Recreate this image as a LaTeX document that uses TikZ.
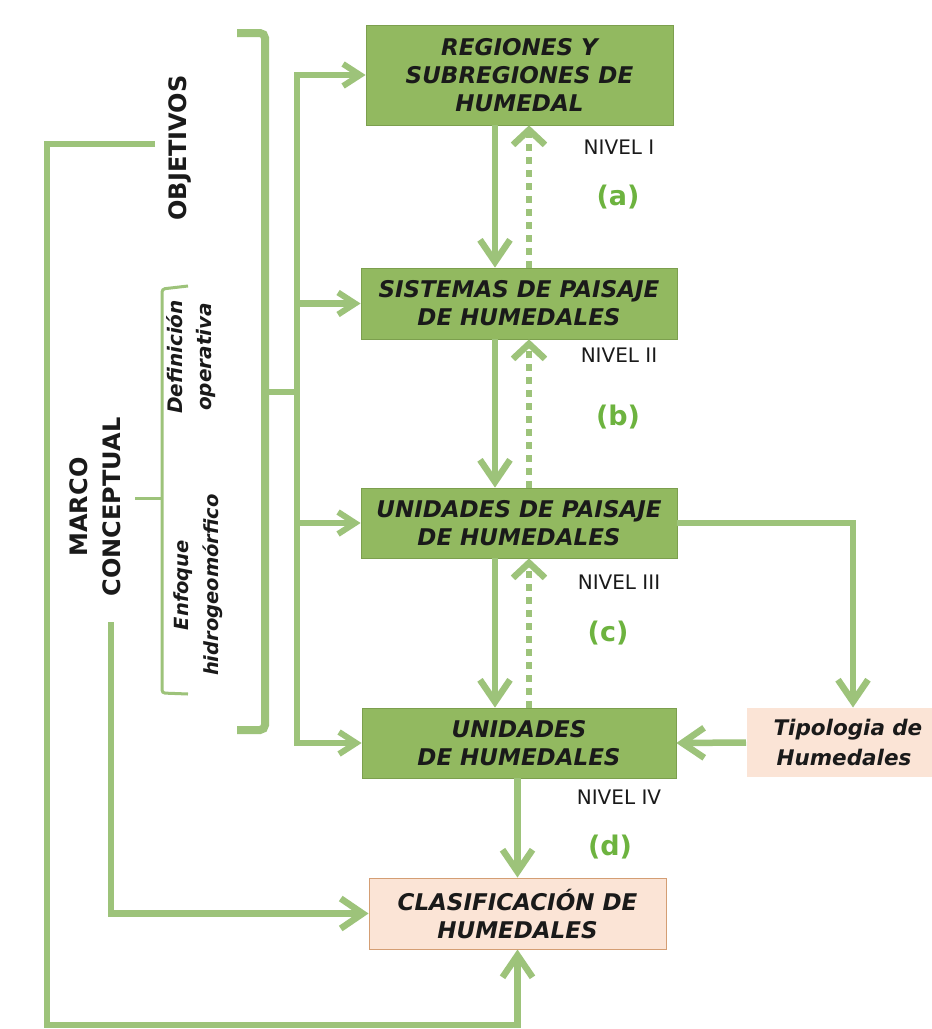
\documentclass[tikz,border=0pt]{standalone}
\usepackage{fontspec}
\setmainfont{DejaVu Sans}
\usetikzlibrary{arrows.meta}
\definecolor{lineG}{HTML}{9DC37A}
\definecolor{boxG}{HTML}{92B960}
\definecolor{boxGB}{HTML}{7C9F4E}
\definecolor{peach}{HTML}{FBE4D6}
\definecolor{peachB}{HTML}{D49E74}
\definecolor{labG}{HTML}{6DB33F}
\definecolor{txtD}{HTML}{1A1A1A}
\begin{document}
\begin{tikzpicture}[x=1pt,y=-1pt,
  plain/.style={draw=lineG, line width=6.5pt},
  bigarr/.style={draw=lineG, line width=6.5pt, -{Straight Barb[length=22pt,width=30pt,line width=6.5pt]}},
  darr/.style={draw=lineG, line width=6.5pt, -{Straight Barb[length=17pt,width=22pt,line width=6pt]}},
  dotarr/.style={draw=lineG, line width=6.5pt, dash pattern=on 7pt off 6pt, -{Straight Barb[length=15pt,width=32pt,line width=6.5pt]}},
  thinl/.style={draw=lineG, line width=3pt, rounded corners=3pt},
  brk/.style={draw=lineG, line width=8pt, rounded corners=5pt},
  gbox/.style={rectangle, fill=boxG, draw=boxGB, line width=0.8pt, inner sep=0pt, align=center, text=txtD,
    font=\fontsize{23}{28}\selectfont\bfseries\itshape},
  pbox/.style={rectangle, fill=peach, draw=peachB, line width=1pt, inner sep=0pt, align=center, text=txtD,
    font=\fontsize{23}{28}\selectfont\bfseries\itshape},
  nivel/.style={font=\fontsize{20}{22}\selectfont, text=txtD, inner sep=0pt},
  letra/.style={font=\fontsize{27}{30}\selectfont\bfseries, text=labG, inner sep=0pt},
  rottxt/.style={rotate=90, align=center, inner sep=0pt, text=txtD}
]
\useasboundingbox (0,0) rectangle (932,1029);
\clip (0,0) rectangle (932,1029);
\fill[white] (0,0) rectangle (932,1029);

% boxes
\node[gbox, minimum width=307pt, minimum height=100pt] (b1) at (519.5,75) {REGIONES Y\\SUBREGIONES DE\\HUMEDAL};
\node[gbox, minimum width=316pt, minimum height=71pt] (b2) at (519,303.5) {SISTEMAS DE PAISAJE\\DE HUMEDALES};
\node[gbox, minimum width=316pt, minimum height=70pt] (b3) at (519,523) {UNIDADES DE PAISAJE\\DE HUMEDALES};
\node[gbox, minimum width=314pt, minimum height=70pt] (b4) at (519,743) {UNIDADES\\DE HUMEDALES};
\node[pbox, minimum width=297pt, minimum height=71pt] (b5) at (517.5,913.5) {CLASIFICACIÓN DE\\HUMEDALES};
\node[pbox, draw=none, anchor=west, align=left, text width=180pt, inner xsep=27pt, minimum height=69pt,
  font=\fontsize{21.5}{30}\selectfont\bfseries\itshape] (tipo) at (746,742.5) {Tipologia de\\\hspace*{3pt}Humedales};

% rotated texts
\node[rottxt, font=\fontsize{24}{28}\selectfont\bfseries] (obj) at (180,148) {OBJETIVOS};
\node[rottxt, font=\fontsize{24}{33}\selectfont\bfseries] (marco) at (95,507) {MARCO\\CONCEPTUAL};
\node[rottxt, font=\fontsize{20}{29}\selectfont\bfseries\itshape] (defop) at (191.5,357) {Definición\\operativa};
\node[rottxt, font=\fontsize{19.5}{30}\selectfont\bfseries\itshape] (enf) at (198,585) {Enfoque\\hidrogeomórfico};

% level labels
\node[nivel] (n1) at (619,147) {NIVEL I};
\node[nivel] (n2) at (619,355) {NIVEL II};
\node[nivel] (n3) at (619,582) {NIVEL III};
\node[nivel] (n4) at (619,797) {NIVEL IV};
\node[letra] (la) at (618,197) {(a)};
\node[letra] (lb) at (618,417) {(b)};
\node[letra] (lc) at (608,633) {(c)};
\node[letra] (ld) at (610,847) {(d)};

% coordinates
\coordinate (s1) at (495,0);
\coordinate (s2) at (529,0);
\coordinate (tx) at (853,0);
\coordinate (dtop) at (297,75);
\coordinate (dmid) at (297,392);
\coordinate (dbot) at (297,743);
\coordinate (bk) at (265,392);
\coordinate (mtop) at (155,144);
\coordinate (ml) at (47,144);
\coordinate (bl) at (47,1025);
\coordinate (m2) at (111,622);
\coordinate (bm) at (135,498);

% big bracket (objetivos / marco)
\draw[brk] (237,33) -- (265,33) -- (265,730) -- (237,730);
\draw[plain] (bk) -- (dmid);

% thin brace
\draw[thinl] (188,286) -- (162,289) -- (162,693) -- (188,694);
\draw[draw=lineG, line width=3pt] (bm) -- (162,498);

% distribution line and arrows
\draw[darr] (dmid) -- (dtop) -- (b1.west);
\draw[darr] (dmid) -- (dbot) -- (b4.west);
\draw[darr] (b2.west -| dtop) -- (b2.west);
\draw[darr] (b3.west -| dtop) -- (b3.west);

% vertical level arrows
\draw[bigarr] (b1.south -| s1) -- (b2.north -| s1);
\draw[dotarr] (b2.north -| s2) -- (b1.south -| s2);
\draw[bigarr] (b2.south -| s1) -- (b3.north -| s1);
\draw[dotarr] (b3.north -| s2) -- (b2.south -| s2);
\draw[bigarr] (b3.south -| s1) -- (b4.north -| s1);
\draw[dotarr] (b4.north -| s2) -- (b3.south -| s2);
\draw[bigarr] (b4.south -| b5.north) -- (b5.north);

% tipologia
\draw[bigarr] (b3.east) -- (b3.east -| tx) -- (tipo.north -| tx);
\draw[bigarr] (tipo.west) -- (b4.east);

% marco conceptual lines
\draw[bigarr] (mtop) -- (ml) -- (bl) -- (b5.south |- bl) -- (b5.south);
\draw[bigarr] (m2) -- (b5.west -| m2) -- (b5.west);
\end{tikzpicture}
\end{document}
